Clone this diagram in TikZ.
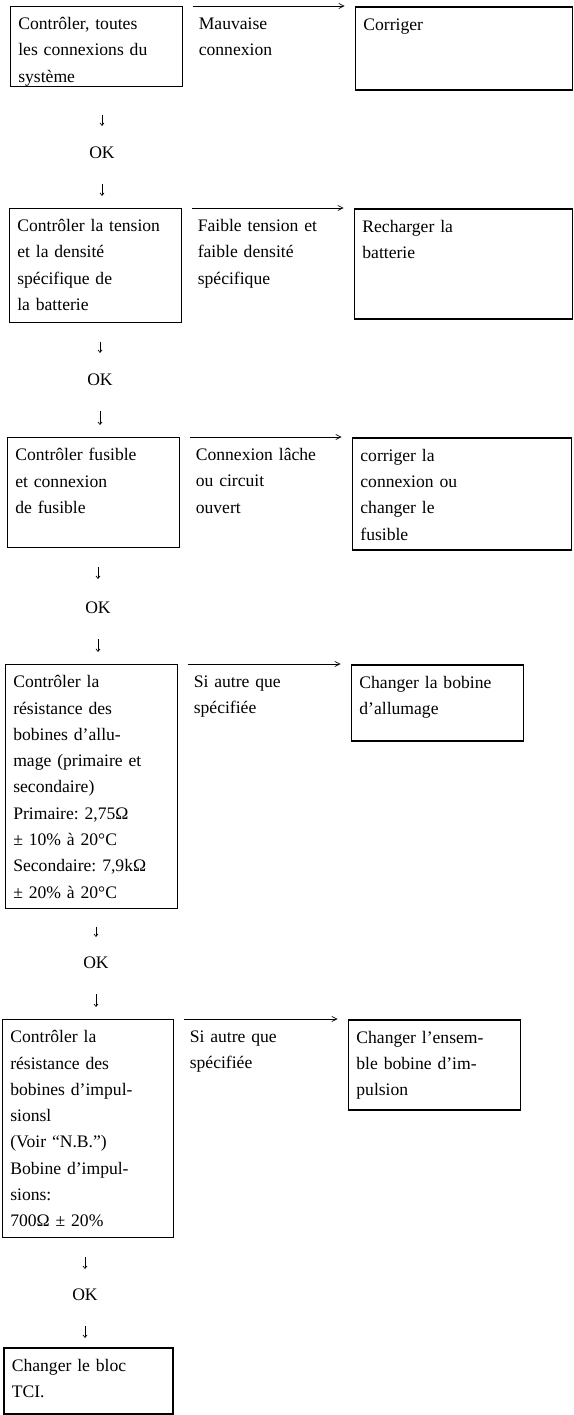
\documentclass[tikz,border=0pt]{standalone}
\usepackage{fontspec}
\setmainfont{Liberation Serif}
\usetikzlibrary{arrows.meta,positioning}
\frenchspacing

\begin{document}
\begin{tikzpicture}[
  x=1pt,y=-1pt,
  every node/.style={font=\fontsize{17.6}{26.3}\selectfont},
  check/.style={draw,line width=0.6pt,inner xsep=8pt,inner ysep=5pt,
                text width=#1,align=left,text height=18.4pt},
  check/.default=156pt,
  fix/.style={check=#1,line width=1.6pt},
  fix/.default=156pt,
  cond/.style={inner xsep=0pt,inner ysep=5pt,text width=150pt,align=left,
               text height=18.4pt},
  okay/.style={inner sep=0pt},
  arrow/.style={-{Straight Barb[length=5pt,width=5pt]},line width=0.7pt,
                shorten <=10pt,shorten >=10pt},
  fall/.style={-{Straight Barb[length=2.5pt,width=4pt]},line width=0.7pt}
]
\useasboundingbox (0,0) rectangle (573,1415);

% checks
\node[check,text depth=51.6pt,anchor=north west] (b1) at (10,6) {Contrôler, toutes\\les connexions du\\système};
\node[check,text depth=85.6pt,anchor=north west] (b2) at (9,208) {Contrôler la tension\\et la densité\\spécifique de\\la batterie};
\node[check,text depth=81.6pt,anchor=north west] (b3) at (7,437) {Contrôler fusible\\et connexion\\de fusible};
\node[check,text depth=215.6pt,anchor=north west] (b4) at (5,664) {Contrôler la\\résistance des\\bobines d'allu-\\mage (primaire et\\secondaire)\\Primaire: 2,75Ω\\± 10\% à 20°C\\Secondaire: 7,9kΩ\\± 20\% à 20°C};
\node[check=155pt,text depth=189.6pt,anchor=north west] (b5) at (2,1019) {Contrôler la\\résistance des\\bobines d'impul-\\sionsl\\(Voir “N.B.”)\\Bobine d'impul-\\sions:\\700Ω ± 20\%};
\node[fix=153pt,text depth=37.6pt,anchor=north west] (b6) at (3,1347) {Changer le bloc\\TCI.};

% faults
\node[cond,below right=0pt and 16pt of b1.north east] (m1) {Mauvaise\\connexion};
\node[cond,below right=0pt and 16pt of b2.north east] (m2) {Faible tension et\\faible densité\\spécifique};
\node[cond,below right=0pt and 16pt of b3.north east] (m3) {Connexion lâche\\ou circuit\\ouvert};
\node[cond,below right=0pt and 16pt of b4.north east] (m4) {Si autre que\\spécifiée};
\node[cond,below right=0pt and 16pt of b5.north east] (m5) {Si autre que\\spécifiée};

% remedies
\node[fix=201pt,text depth=54.6pt,below right=0pt and 172pt of b1.north east] (r1) {Corriger};
\node[fix=202pt,text depth=81.6pt,below right=0pt and 172pt of b2.north east] (r2) {Recharger la\\batterie};
\node[fix=203pt,text depth=83.6pt,below right=0pt and 172pt of b3.north east] (r3) {corriger la\\connexion ou\\changer le\\fusible};
\node[fix,text depth=47.6pt,below right=0pt and 173pt of b4.north east] (r4) {Changer la bobine\\d'allumage};
\node[fix,text depth=61.6pt,below right=0pt and 174pt of b5.north east] (r5) {Changer l'ensem-\\ble bobine d'im-\\pulsion};

\draw[arrow] (b1.north east) -- (b1.north east -| r1.west);
\draw[arrow] (b2.north east) -- (b2.north east -| r2.west);
\draw[arrow] (b3.north east) -- (b3.north east -| r3.west);
\draw[arrow] (b4.north east) -- (b4.north east -| r4.west);
\draw[arrow] (b5.north east) -- (b5.north east -| r5.west);

% OK steps
\node[okay] (ok1) at (102,153) {OK};
\node[okay] (ok2) at (100,380) {OK};
\node[okay] (ok3) at (98,608) {OK};
\node[okay] (ok4) at (96,963) {OK};
\node[okay] (ok5) at (85,1295) {OK};

\draw[fall,shorten <=28pt,shorten >=27pt] (b1.south -| ok1) -- (ok1.center);
\draw[fall,shorten <=31pt,shorten >=12pt] (ok1.center) -- (b2.north -| ok1);
\draw[fall,shorten <=19pt,shorten >=27pt] (b2.south -| ok2) -- (ok2.center);
\draw[fall,shorten <=31pt,shorten >=12pt] (ok2.center) -- (b3.north -| ok2);
\draw[fall,shorten <=19pt,shorten >=29pt] (b3.south -| ok3) -- (ok3.center);
\draw[fall,shorten <=31pt,shorten >=12pt] (ok3.center) -- (b4.north -| ok3);
\draw[fall,shorten <=18pt,shorten >=26pt] (b4.south -| ok4) -- (ok4.center);
\draw[fall,shorten <=31pt,shorten >=12pt] (ok4.center) -- (b5.north -| ok4);
\draw[fall,shorten <=19pt,shorten >=26pt] (b5.south -| ok5) -- (ok5.center);
\draw[fall,shorten <=31pt,shorten >=9pt] (ok5.center) -- (b6.north -| ok5);
\end{tikzpicture}
\end{document}
